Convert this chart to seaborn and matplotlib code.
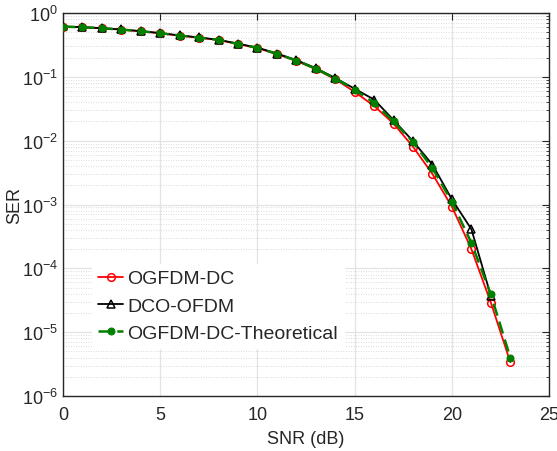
import numpy as np
import pandas as pd
import matplotlib
matplotlib.use("Agg")
import matplotlib.pyplot as plt
import seaborn as sns
from matplotlib.ticker import LogLocator, NullFormatter, MultipleLocator

snr = list(range(0, 24))
ser_ogfdm = [0.61, 0.597, 0.576, 0.548, 0.517, 0.481, 0.442, 0.411, 0.377, 0.326,
             0.282, 0.227, 0.178, 0.132, 0.092, 0.058, 0.035, 0.0185, 0.008, 0.0030,
             9.2e-4, 2.0e-4, 2.9e-5, 3.4e-6]
snr_dco = list(range(0, 23))
ser_dco = [0.615, 0.60, 0.58, 0.552, 0.521, 0.485, 0.446, 0.414, 0.381, 0.331,
           0.287, 0.232, 0.183, 0.137, 0.096, 0.065, 0.044, 0.021, 0.0098, 0.0042,
           1.2e-3, 4.1e-4, 3.7e-5]
ser_theory = [0.612, 0.598, 0.578, 0.55, 0.519, 0.483, 0.444, 0.412, 0.379, 0.328,
              0.284, 0.229, 0.18, 0.134, 0.094, 0.063, 0.039, 0.020, 0.0095, 0.0037,
              1.1e-3, 2.5e-4, 3.9e-5, 4.0e-6]
labels = ["OGFDM-DC", "DCO-OFDM", "OGFDM-DC-Theoretical"]

sns.set_style("whitegrid")
plt.rcParams["font.family"] = ["Liberation Sans", "DejaVu Sans"]
plt.rcParams["mathtext.fontset"] = "custom"
plt.rcParams["mathtext.rm"] = "Liberation Sans"
plt.rcParams["mathtext.it"] = "Liberation Sans:italic"

fig = plt.figure(figsize=(5.57, 4.52), dpi=100)
ax = fig.add_axes([0.113, 0.1217, 0.873, 0.8473])

df1 = pd.DataFrame({"x": snr, "y": ser_ogfdm})
df2 = pd.DataFrame({"x": snr_dco, "y": ser_dco})
df3 = pd.DataFrame({"x": snr, "y": ser_theory})

sns.lineplot(data=df1, x="x", y="y", ax=ax, color="red", lw=1.3, marker="o",
             markersize=5.5, markerfacecolor="none", markeredgecolor="red",
             markeredgewidth=1.1, label=labels[0], zorder=3)
sns.lineplot(data=df2, x="x", y="y", ax=ax, color="black", lw=1.3, marker="^",
             markersize=6, markerfacecolor="none", markeredgecolor="black",
             markeredgewidth=1.1, label=labels[1], zorder=4)
sns.lineplot(data=df3, x="x", y="y", ax=ax, color="#008000", lw=1.8, marker="o",
             markersize=5, markerfacecolor="#008000", markeredgecolor="#008000",
             label=labels[2], zorder=5)
ax.lines[2].set_dashes([5, 2.5])

ax.set_yscale("log")
ax.set_xlim(0, 25)
ax.set_ylim(1e-6, 1)
ax.xaxis.set_major_locator(MultipleLocator(5))
ax.yaxis.set_major_locator(LogLocator(base=10, numticks=10))
ax.yaxis.set_minor_locator(LogLocator(base=10, subs=np.arange(2, 10), numticks=20))
ax.yaxis.set_minor_formatter(NullFormatter())

ax.grid(True, which="major", color="#e3e3e3", lw=0.9, ls="-")
ax.grid(True, which="minor", axis="y", color="#cfcfcf", lw=0.6, ls=(0, (1, 2)))
ax.set_axisbelow(True)

for s in ax.spines.values():
    s.set_visible(True)
    s.set_color("#262626")
    s.set_linewidth(1.0)
ax.tick_params(which="both", direction="in", top=True, right=True,
               colors="#262626", labelcolor="#262626", labelsize=13)
ax.tick_params(axis="x", which="major", pad=7)
ax.tick_params(which="major", length=5, width=0.8)
ax.tick_params(which="minor", length=2.5, width=0.6)

ax.set_xlabel("SNR (dB)", fontsize=13, color="#262626", labelpad=5)
ax.set_ylabel("SER", fontsize=13, color="#262626")
ax.yaxis.set_label_coords(-0.082, 0.5)

leg = ax.legend(loc="lower left", bbox_to_anchor=(0.04, 0.10), fontsize=14,
                frameon=True, facecolor="white", edgecolor="white", framealpha=1,
                handlelength=1.3, handletextpad=0.2, labelspacing=0.5,
                borderpad=0.3, fancybox=False)

fig.savefig("out.png", dpi=100)
